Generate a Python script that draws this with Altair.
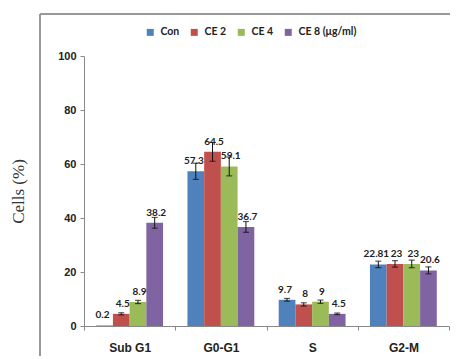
import altair as alt
import pandas as pd

phases = ["Sub G1", "G0-G1", "S", "G2-M"]
groups = ["Con", "CE 2", "CE 4", "CE 8 (μg/ml)"]
colors = ["#4F81BD", "#C0504D", "#9BBB59", "#8064A2"]

con = [0.2, 57.3, 9.7, 22.81]
ce2 = [4.5, 64.5, 8.0, 23.0]
ce4 = [8.9, 59.1, 9.0, 23.0]
ce8 = [38.2, 36.7, 4.5, 20.6]

con_err = [0.0, 3.0, 0.5, 1.2]
ce2_err = [0.4, 3.5, 0.6, 1.2]
ce4_err = [0.6, 3.5, 0.6, 1.4]
ce8_err = [2.0, 2.0, 0.3, 1.3]

con_lab = ["0.2", "57.3", "9.7", "22.81"]
ce2_lab = ["4.5", "64.5", "8", "23"]
ce4_lab = ["8.9", "59.1", "9", "23"]
ce8_lab = ["38.2", "36.7", "4.5", "20.6"]

rows = []
for g, vals, errs, labs in zip(groups, [con, ce2, ce4, ce8],
                               [con_err, ce2_err, ce4_err, ce8_err],
                               [con_lab, ce2_lab, ce4_lab, ce8_lab]):
    for p, v, e, l in zip(phases, vals, errs, labs):
        rows.append({"phase": p, "group": g, "value": v,
                     "lo": max(v - e, 0), "hi": v + e, "label": l,
                     "haserr": e > 0})
df = pd.DataFrame(rows)

AX = "Liberation Sans"
LB = "Lato"

x = alt.X("phase:N", sort=phases,
          scale=alt.Scale(paddingInner=0, paddingOuter=0),
          axis=alt.Axis(title=None, labelAngle=0, tickBand="extent",
                        labelFont=AX, labelFontWeight="bold", labelFontSize=12,
                        labelColor="#222", domainColor="#888", tickColor="#888",
                        tickSize=4, labelPadding=12))
xo = alt.XOffset("group:N", sort=groups,
                 scale=alt.Scale(paddingInner=0, paddingOuter=0.73))

base = alt.Chart(df).encode(x=x, xOffset=xo)
errbase = base.transform_filter(alt.datum.haserr)

bars = base.mark_bar().encode(
    y=alt.Y("value:Q", scale=alt.Scale(domain=[0, 100]),
            axis=alt.Axis(values=[0, 20, 40, 60, 80, 100], title="Cells (%)",
                          grid=False, labelFont=AX, labelFontWeight="bold",
                          labelFontSize=11, labelColor="#222",
                          domainColor="#888", tickColor="#888", tickSize=4,
                          labelPadding=4, titleFont="Liberation Serif",
                          titleFontWeight="normal", titleFontSize=17,
                          titleColor="#333", titlePadding=30)),
    color=alt.Color("group:N", sort=groups,
                    scale=alt.Scale(domain=groups, range=colors),
                    legend=alt.Legend(title=None, orient="none", direction="horizontal",
                                      legendX=61, legendY=-29, symbolType="square",
                                      symbolSize=49, symbolStrokeWidth=0,
                                      labelFont=LB, labelFontWeight="bold",
                                      labelFontSize=10.5, labelColor="#222",
                                      labelOffset=5, columnPadding=9)),
)

rules = errbase.mark_rule(color="#111", strokeWidth=1).encode(y="lo:Q", y2="hi:Q")
caps_lo = errbase.mark_tick(color="#111", size=6, thickness=1.2).encode(y="lo:Q")
caps_hi = errbase.mark_tick(color="#111", size=6, thickness=1.2).encode(y="hi:Q")

text_style = dict(font=LB, fontWeight="bold", fontSize=10, color="#222",
                  baseline="middle", dy=-10)
texts_con = base.transform_filter(alt.datum.group == "Con").mark_text(
    dx=-2, **text_style).encode(y="value:Q", text="label:N")
texts_ce = base.transform_filter(alt.datum.group != "Con").mark_text(
    dx=1.5, **text_style).encode(y="value:Q", text="label:N")

frame = alt.Chart(alt.Data(values=[{}]))
frame_left = frame.mark_rule(color="#999", strokeWidth=2).encode(
    x=alt.value(-44), y=alt.value(-42), y2=alt.value(310))
frame_top = frame.mark_rule(color="#999", strokeWidth=2).encode(
    x=alt.value(-44), x2=alt.value(380), y=alt.value(-42))

chart = alt.layer(frame_left, frame_top, bars, rules, caps_lo, caps_hi,
                  texts_con, texts_ce).properties(
    width=365, height=270,
    autosize=alt.AutoSizeParams(type="none"),
    padding={"left": 76, "top": 48, "right": 1, "bottom": 30},
).configure_view(stroke=None)

chart.save("out.html", embed_options={"renderer": "svg", "actions": False})
